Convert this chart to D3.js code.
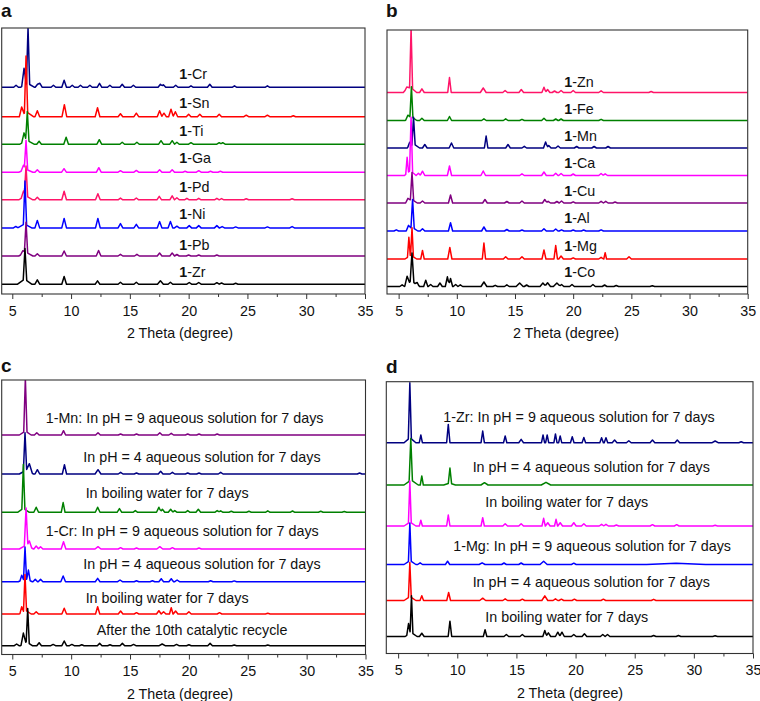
<!DOCTYPE html>
<html><head><meta charset="utf-8">
<script src="https://cdn.jsdelivr.net/npm/d3@7/dist/d3.min.js"></script>
<style>
body{margin:0;background:#fff;}
svg{display:block;font-family:"Liberation Sans",Arial,Helvetica,sans-serif;}
</style></head>
<body>
<svg id="chart" width="760" height="701"></svg>
<script>
// ---------------- DATA ----------------
const xTicks = [5, 10, 15, 20, 25, 30, 35];
const xMinorTicks = [7.5, 12.5, 17.5, 22.5, 27.5, 32.5];
const xTitle = "2 Theta (degree)";

// Panel a
const aNames = ["Cr", "Sn", "Ti", "Ga", "Pd", "Ni", "Pb", "Zr"];
const aOffsets = [206.7, 177.3, 149.8, 121.8, 94.2, 66.1, 38, 9.8];
const aLabelY = [215, 186.3, 158.3, 130.7, 102.3, 75, 44, 17.3];
const aPeaks = [
  [[5.32,2],[6.0,17,0.2],[6.34,56,0.14],[6.3,4,0.6],[7.15,3],[7.35,4],[8.5,2],[9.41,7,0.2],[10.1,2],[10.8,2],[11.6,2],[12.42,4,0.2],[13.3,2],[14.35,3],[15.3,2],[17.6,3],[17.85,2.5],[18.9,2],[20.2,1.5],[21.8,3],[23.9,1.5],[26.7,1.5]],
  [[5.8,8,0.2],[6.17,56,0.14],[6.2,5,0.6],[7.13,6,0.2],[9.43,12,0.2],[12.25,9,0.2],[14.2,3],[15.55,3.5],[17.53,6,0.2],[17.9,3.5],[18.5,7.5],[18.87,5],[20.0,2.5],[20.95,2.5],[22.6,2.5],[24.9,1.5],[26.7,1.5],[28.9,1]],
  [[6.0,9,0.2],[6.28,29,0.14],[6.25,4,0.6],[7.28,3],[9.58,7,0.2],[12.4,4.5],[14.35,2],[15.6,2],[17.65,3.5],[18.6,3.5],[19.0,2],[20.2,1.5],[22.6,1.5],[22.9,1.5]],
  [[5.95,5,0.2],[6.17,29,0.14],[6.15,3,0.6],[7.13,2.5],[9.4,3.5],[12.36,4.5],[14.2,1.5],[15.55,1.8],[17.53,2.5],[18.6,2.5],[19.7,1],[20.86,1.5],[21.86,1],[22.7,1]],
  [[5.95,6,0.2],[6.17,30,0.14],[6.15,4,0.6],[7.13,2.5],[9.41,8.5,0.2],[12.28,6,0.2],[14.2,1.7],[15.55,1.8],[17.5,3.5],[18.6,4],[19.0,2],[19.85,1.5],[20.86,1.5],[22.4,1.5],[22.8,1.2],[24.9,1],[28.8,1]],
  [[5.3,1.5],[6.08,43,0.14],[6.05,4,0.6],[7.13,7.5],[9.41,9.5,0.2],[12.28,9.5,0.2],[14.2,4.3],[15.55,3.5],[17.53,6.3,0.2],[18.45,6.5],[19.0,1.7],[20.05,2.3],[20.86,2.3],[22.4,2.3],[22.85,1.3],[24,1],[26.7,1],[28.8,1.3]],
  [[5.9,3,0.2],[6.17,30,0.14],[6.15,4,0.6],[7.13,2.3],[9.41,5,0.2],[12.34,5.5,0.2],[14.2,1.7],[15.6,1.7],[17.53,3],[18.6,3],[19.0,1.5],[20.0,1],[20.86,1],[22.4,1]],
  [[6.08,31,0.15],[6.05,5,0.6],[7.13,4.3],[9.41,7.7,0.2],[12.25,3.3,0.2],[14.2,2],[15.55,2],[17.6,3.5,0.25],[18.45,2],[20.05,1.7],[20.86,1.7],[22.4,1.5],[22.8,1.2],[24,1]]
];

// Panel b
const bNames = ["Zn", "Fe", "Mn", "Ca", "Cu", "Al", "Mg", "Co"];
const bOffsets = [201.5, 173.5, 146, 118.5, 91, 63, 35, 7.5];
const bLabelY = [207.3, 180, 153, 125.7, 98.3, 70.7, 43, 17.3];
const bPeaks = [
  [[5.7,4,0.3],[6.07,60,0.13],[6.05,5,0.5],[7.0,3.7],[9.37,15,0.15],[12.27,4.5,0.25],[14.15,2],[15.54,3,0.2],[17.49,5.3,0.18],[17.8,3],[18.4,1.5],[18.96,2],[20.0,2],[22.4,1.7],[26.7,1]],
  [[5.8,3.5,0.2],[6.1,30,0.13],[6.07,4,0.5],[7.0,2.3],[9.37,4,0.18],[12.33,1.7],[14.2,1.7],[15.6,1.2],[17.49,2.3],[18.5,1.5],[18.96,1.5],[22.4,1.2]],
  [[5.95,4.5,0.2],[6.28,27,0.14],[6.3,4,0.5],[7.25,3.5],[9.54,5],[12.52,12,0.15],[14.4,3.5],[15.8,1.7],[17.63,6,0.18],[17.9,2.5],[18.7,2],[20.3,1.5],[21.8,1.5],[23.0,1.5]],
  [[5.73,16,0.12],[6.07,54,0.13],[6.0,5,0.5],[6.7,2.3],[7.05,4.3],[9.37,9.5,0.18],[12.27,4.5,0.2],[15.6,1.7],[17.49,3.5],[18.5,2.3],[18.96,2],[20,1.5],[22.4,2],[22.75,1.7]],
  [[5.8,3,0.2],[6.15,27,0.14],[6.1,4,0.5],[7.05,2],[9.46,8,0.18],[12.42,3.5,0.2],[14.3,1.5],[15.6,2],[17.56,3.5],[17.85,1.7],[18.6,1.5],[19.0,2],[20,1.2],[22.4,1.7],[22.8,1.7],[23.6,1]],
  [[4.8,1.2],[5.85,4,0.2],[6.2,28,0.14],[6.15,4,0.5],[7.05,2.3],[9.46,8.3,0.18],[12.33,4,0.2],[14.3,1.5],[15.6,1],[17.49,2.3],[18.5,2],[19.0,1.2],[20,1],[20.9,1],[22.4,1.2]],
  [[5.88,19,0.12],[6.15,28,0.12],[6.05,4,0.5],[7.05,8.5,0.15],[9.4,11.5,0.18],[12.33,16,0.14],[14.2,2.3],[15.6,2.3],[17.49,9,0.17],[18.5,13.5,0.15],[18.96,3],[20,1.2],[22.4,1.7],[22.75,6.3,0.12],[24.8,2.3]],
  [[5.3,1.7],[5.73,8,0.2],[6.15,28,0.16],[6.1,6,0.6],[6.6,3],[7.33,6.3,0.18],[7.75,2],[8.55,3.5,0.2],[9.19,9.7,0.18],[9.46,8,0.18],[9.9,2],[10.3,1.7],[12.33,4.5,0.25],[13.3,1.2],[14.3,1.7],[15.4,3.5,0.3],[16.0,1.5],[17.4,3.5,0.25],[17.8,3.7,0.25],[18.6,3.5,0.3],[19.0,2],[19.9,2],[21.7,2],[22.7,1.5],[23.7,1],[26.8,0.8]]
];

// Panel c
const cNames = ["1-Mn: In pH = 9 aqueous solution for 7 days", "In pH = 4 aqueous solution for 7 days", "In boiling water for 7 days",
  "1-Cr: In pH = 9 aqueous solution for 7 days", "In pH = 4 aqueous solution for 7 days", "In boiling water for 7 days",
  "After the 10th catalytic recycle"];
const cOffsets = [219.5, 180.5, 142.2, 105.5, 72.8, 40.5, 8.8];
const cLabelX = [7.84, 11.03, 11.23, 7.84, 11.03, 11.23, 12.17];
const cLabelY = [231.2, 192.2, 156.8, 118.5, 85.2, 51.8, 19.5];
const cPeaks = [
  [[6.11,52.7,0.14],[6.1,4,0.5],[7.08,2.3],[9.35,4.3,0.18],[12.28,2.3],[14.2,1],[15.55,1],[17.53,2.3],[18.5,1.7],[19.9,1],[20.86,1],[22.4,1]],
  [[6.08,38,0.14],[6.45,8,0.25],[6.2,4,0.6],[7.13,4.3],[9.43,9.3,0.18],[12.28,4.3,0.25],[14.2,1.7],[15.55,1],[17.6,2.7],[18.6,1.7],[19.9,1],[20.86,1],[22.7,1.7],[34.5,1]],
  [[5.94,44,0.13],[5.95,4,0.5],[7.03,5],[9.32,9.7,0.16],[12.25,5],[14.1,3.7],[15.45,1.7],[17.45,5],[17.75,3],[18.45,3],[18.8,1.7],[19.9,1.7],[20.8,3],[22.4,1.7],[22.7,1.5],[23.6,1],[25.1,1],[26.7,1.5],[28.8,1.3],[31.2,1],[33.2,0.8]],
  [[6.17,37.3,0.15],[6.45,5.7,0.2],[6.2,4,0.6],[7.03,3],[7.4,2.3],[9.35,7.3,0.2],[12.28,2.3,0.25],[14.2,1.3],[15.55,1],[17.53,2.3,0.25],[18.6,1.3],[20.86,1]],
  [[5.8,5,0.15],[6.08,31.7,0.13],[6.37,10,0.15],[6.1,3,0.6],[6.95,2.3],[7.4,2.3],[9.32,5.7,0.2],[12.25,3.3],[14.15,1.7],[15.55,1],[16.9,1],[17.65,3],[18.5,3],[19.0,1.7],[21.85,1],[23.85,0.8]],
  [[5.8,5.7,0.15],[6.08,35.7,0.13],[6.1,4,0.5],[7.03,2.3],[9.41,5.7,0.2],[12.25,7.3,0.18],[14.2,3],[15.55,1.3],[17.45,3.3],[17.85,2.3],[18.5,6.3,0.15],[18.87,3],[20.0,2.3],[22.6,1.3],[26.7,0.7]],
  [[5.37,1.7],[5.94,10.7,0.2],[6.31,34,0.13],[6.2,4,0.5],[7.28,3],[8.47,1.3],[9.41,4.7,0.2],[10.06,1.3],[10.9,1],[12.42,2.3,0.2],[13.3,1],[14.35,2.3],[15.3,1.3],[17.73,1.7,0.25],[18.95,1.3],[20,1],[21.8,2.3],[23.85,0.7],[26.7,0.7]]
];

// Panel d
const dNames = ["1-Zr: In pH = 9 aqueous solution for 7 days", "In pH = 4 aqueous solution for 7 days", "In boiling water for 7 days",
  "1-Mg: In pH = 9 aqueous solution for 7 days", "In pH = 4 aqueous solution for 7 days", "In boiling water for 7 days"];
const dOffsets = [210.8, 168.5, 127.5, 89, 53, 17];
const dLabelX = [8.82, 11.30, 12.37, 9.66, 11.30, 12.37];
const dLabelY = [231.8, 181.8, 146.8, 102.8, 66.8, 31.8];
const dPeaks = [
  [[5.99,55,0.13],[6.0,5,0.5],[6.92,7.7,0.13],[9.24,18.3,0.14],[12.15,11.7,0.14],[14.05,6.7,0.14],[15.4,3.3],[17.25,7.7,0.13],[17.6,7.7,0.13],[18.3,8.7,0.13],[18.7,6.7,0.13],[19.72,6,0.15],[20.7,5.3,0.15],[22.2,5,0.15],[22.57,5,0.15],[23.3,2.7],[24.5,2],[26.5,2.7,0.2],[28.6,2.7,0.2],[31.8,1.7,0.25],[34,1]],
  [[6.07,41.7,0.14],[6.1,5,0.6],[7.0,9,0.13],[9.38,15,0.14],[9.35,2,0.5],[12.3,2.3,0.3],[17.5,2.7,0.4]],
  [[5.99,41,0.12],[6.0,4,0.5],[6.92,5.7,0.13],[9.24,11,0.14],[12.15,8.3,0.14],[14.05,2.3],[15.4,2.3],[17.3,7.7,0.14],[17.65,3.3],[18.35,6.7,0.13],[18.7,3.3],[19.85,3.3],[20.7,2.3],[22.2,1.7],[22.57,1.7],[23.45,1],[26.5,1.3],[28.55,1.3],[31.8,0.7]],
  [[5.99,37.5,0.12],[6.0,4,0.5],[6.86,1.7],[9.18,3.3,0.18],[12.1,1.7,0.25],[13.95,1.5],[15.4,1.5],[17.3,3.3,0.3],[19.85,1.3],[28.5,1.2,2.5]],
  [[5.99,34,0.12],[6.0,4,0.5],[7.0,4.7,0.15],[9.27,8,0.16],[12.15,2.3,0.25],[14.05,1.7],[15.5,1.3],[17.4,4.7,0.25],[18.3,1.7],[18.8,1.3],[19.9,1.3],[22.35,1.3],[26.6,1.2]],
  [[5.88,10.7,0.15],[6.13,37,0.12],[6.1,4,0.5],[7.0,3.3,0.2],[9.38,15.3,0.15],[12.35,6.7,0.15],[14.15,2],[15.5,2,0.2],[17.4,6,0.17],[17.7,3.7],[18.5,4.3],[18.85,4.3],[19.85,2],[20.75,2.7],[22.3,2],[22.7,2],[26.6,1],[28.7,1],[31.8,0.7]]
];

// ---------------- STYLE / LAYOUT ----------------
const NAVY = "#000080", RED = "#ff0000", GREEN = "#008000", MAGENTA = "#ff00ff",
      PINK = "#ff1468", BLUE = "#0000ff", PURPLE = "#800080", BLACK = "#000000";

const panels = [
  {id:"a", L:1.7, R:365, T:28, B:294, xDom:[4.1,35], titleX:180, labX:[1,17],
   names:aNames, offsets:aOffsets, peaks:aPeaks, labelY:aLabelY, labelX:aNames.map(()=>19.2), bold1:true,
   colors:[NAVY, RED, GREEN, MAGENTA, PINK, BLUE, PURPLE, BLACK]},
  {id:"b", L:387, R:747.7, T:30, B:294, xDom:[4,35], titleX:566, labX:[386,17],
   names:bNames, offsets:bOffsets, peaks:bPeaks, labelY:bLabelY, labelX:bNames.map(()=>19.24), bold1:true,
   colors:[PINK, GREEN, NAVY, MAGENTA, PURPLE, BLUE, RED, BLACK]},
  {id:"c", L:1.7, R:365.5, T:380, B:654.5, xDom:[4.1,35], titleX:180, labX:[1,371.7],
   names:cNames, offsets:cOffsets, peaks:cPeaks, labelY:cLabelY, labelX:cLabelX, bold1:false,
   colors:[PURPLE, NAVY, GREEN, MAGENTA, BLUE, RED, BLACK]},
  {id:"d", L:386.3, R:753, T:381.7, B:653.5, xDom:[4,35], titleX:570, labX:[386,372.7],
   names:dNames, offsets:dOffsets, peaks:dPeaks, labelY:dLabelY, labelX:dLabelX, bold1:false,
   colors:[NAVY, GREEN, MAGENTA, BLUE, RED, BLACK]}
];

const FONT = 14.3;
const DEFAULT_HW = 0.2;
const svg = d3.select("#chart");

// Render a peak table as a piecewise-linear profile (sum of triangular peaks)
function profile(peaks, dom) {
  const pts = new Set([dom[0], dom[1]]);
  peaks.forEach(p => { const w = p[2] || DEFAULT_HW; pts.add(p[0]-w); pts.add(p[0]); pts.add(p[0]+w); });
  const xs = Array.from(pts).filter(t => t >= dom[0] && t <= dom[1]).sort((a,b)=>a-b);
  return xs.map(t => {
    let v = 0;
    peaks.forEach(p => { const w = p[2] || DEFAULT_HW; const d = Math.abs(t - p[0]); if (d < w) v += p[1] * (1 - d / w); });
    return [t, v];
  });
}

panels.forEach(P => {
  const g = svg.append("g");
  const x = d3.scaleLinear().domain(P.xDom).range([P.L, P.R]);
  const y = d3.scaleLinear().domain([0, P.B - P.T]).range([P.B, P.T]);

  const clipId = "clip-" + P.id;
  g.append("clipPath").attr("id", clipId).append("rect")
    .attr("x", P.L).attr("y", P.T).attr("width", P.R - P.L).attr("height", P.B - P.T);

  const traces = g.append("g").attr("clip-path", `url(#${clipId})`);
  P.peaks.forEach((pk, i) => {
    const off = P.offsets[i];
    const line = d3.line().x(d => x(d[0])).y(d => y(off + d[1]));
    traces.append("path").datum(profile(pk, P.xDom))
      .attr("d", line).attr("fill", "none")
      .attr("stroke", P.colors[i]).attr("stroke-width", 1.5)
      .attr("stroke-linejoin", "round");
  });

  // labels
  P.names.forEach((nm, i) => {
    const t = g.append("text").attr("x", x(P.labelX[i])).attr("y", y(P.labelY[i]))
      .attr("font-size", FONT).attr("fill", "#111");
    if (P.bold1) {
      t.append("tspan").attr("font-weight", "bold").text("1");
      t.append("tspan").text("-" + nm);
    } else {
      t.text(nm);
    }
  });

  // frame
  g.append("rect").attr("x", P.L).attr("y", P.T).attr("width", P.R - P.L).attr("height", P.B - P.T)
    .attr("fill", "none").attr("stroke", "#333").attr("stroke-width", 1.1);

  // x axis
  const ax = g.append("g").attr("transform", `translate(0,${P.B})`)
    .call(d3.axisBottom(x).tickValues(xTicks).tickSize(5).tickSizeOuter(0).tickPadding(6.5).tickFormat(d3.format("d")));
  ax.select(".domain").remove();
  ax.selectAll("line").attr("stroke", "#333");
  ax.selectAll("text").attr("font-size", FONT).attr("fill", "#111").attr("font-family", null);
  const axm = g.append("g").attr("transform", `translate(0,${P.B})`)
    .call(d3.axisBottom(x).tickValues(xMinorTicks).tickSize(3).tickFormat(""));
  axm.select(".domain").remove();
  axm.selectAll("line").attr("stroke", "#333");

  g.append("text").attr("x", P.titleX).attr("y", P.B + 44).attr("text-anchor", "middle")
    .attr("font-size", FONT).attr("fill", "#111").text(xTitle);

  g.append("text").attr("x", P.labX[0]).attr("y", P.labX[1]).attr("font-size", 19)
    .attr("font-weight", "bold").attr("fill", "#111").text(P.id);
});
</script>
</body></html>
